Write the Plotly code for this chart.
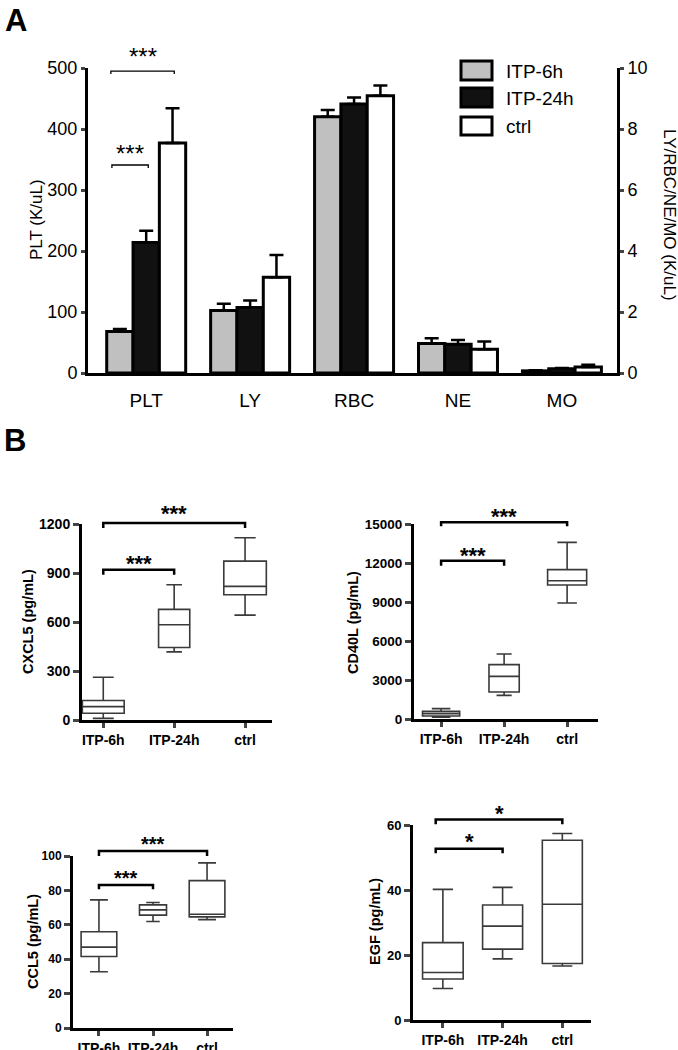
import plotly.graph_objects as go

W, H = 678, 1050
FONT = "Liberation Sans, Arial, sans-serif"

# ---------------- data : panel A ----------------
groups = ["ITP-6h", "ITP-24h", "ctrl"]
group_colors = ["#c0c0c0", "#111111", "#ffffff"]
cells = ["PLT", "LY", "RBC", "NE", "MO"]

plt_cells = ["PLT"]
plt_mean = {"ITP-6h": [68], "ITP-24h": [214], "ctrl": [377]}
plt_sem = {"ITP-6h": [4], "ITP-24h": [19], "ctrl": [57]}

other_cells = ["LY", "RBC", "NE", "MO"]
other_mean = {
    "ITP-6h": [2.05, 8.40, 0.97, 0.07],
    "ITP-24h": [2.15, 8.82, 0.94, 0.14],
    "ctrl": [3.14, 9.09, 0.78, 0.20],
}
other_sem = {
    "ITP-6h": [0.22, 0.22, 0.17, 0.02],
    "ITP-24h": [0.23, 0.21, 0.14, 0.02],
    "ctrl": [0.73, 0.34, 0.25, 0.07],
}

# ---------------- data : panel B ----------------
box_groups = ["ITP-6h", "ITP-24h", "ctrl"]

cxcl5_low = [10, 417, 642]
cxcl5_q1 = [41, 444, 767]
cxcl5_med = [82, 583, 818]
cxcl5_q3 = [119, 677, 973]
cxcl5_high = [262, 828, 1116]

cd40l_low = [130, 1820, 8920]
cd40l_q1 = [230, 2080, 10310]
cd40l_med = [410, 3280, 10640]
cd40l_q3 = [590, 4180, 11490]
cd40l_high = [795, 5000, 13590]

ccl5_low = [32.7, 61.9, 63.0]
ccl5_q1 = [41.6, 65.6, 64.6]
ccl5_med = [47.0, 68.7, 66.1]
ccl5_q3 = [56.0, 71.6, 85.7]
ccl5_high = [74.5, 73.0, 96.0]

egf_low = [9.7, 18.8, 16.6]
egf_q1 = [12.6, 21.8, 17.4]
egf_med = [14.6, 28.9, 35.6]
egf_q3 = [23.8, 35.4, 55.3]
egf_high = [40.2, 40.8, 57.4]

# ---------------- helpers (window pixels -> paper) ----------------
def px(x):
    return x / W


def py(y):
    return 1 - y / H


fig = go.Figure()

# ---------------- panel A bars ----------------
for g, col in zip(groups, group_colors):
    fig.add_trace(go.Bar(
        x=plt_cells, y=plt_mean[g], name=g, offsetgroup=g,
        marker=dict(color=col, line=dict(color="#000", width=3)),
        error_y=dict(type="data", symmetric=False, array=plt_sem[g],
                     arrayminus=[0] * len(plt_sem[g]),
                     color="#000", thickness=2.5, width=7),
        xaxis="x", yaxis="y", showlegend=False))
    fig.add_trace(go.Bar(
        x=other_cells, y=other_mean[g], name=g, offsetgroup=g,
        marker=dict(color=col, line=dict(color="#000", width=3)),
        error_y=dict(type="data", symmetric=False, array=other_sem[g],
                     arrayminus=[0] * len(other_sem[g]),
                     color="#000", thickness=2.5, width=7),
        xaxis="x", yaxis="y2", showlegend=False))

# ---------------- panel B boxes ----------------
box_panels = [
    dict(name="CXCL5 (pg/mL)", xa="x2", ya="y3",
         stats=(cxcl5_low, cxcl5_q1, cxcl5_med, cxcl5_q3, cxcl5_high),
         widths=[0.59, 0.44, 0.6]),
    dict(name="CD40L (pg/mL)", xa="x3", ya="y4",
         stats=(cd40l_low, cd40l_q1, cd40l_med, cd40l_q3, cd40l_high),
         widths=[0.59, 0.48, 0.62]),
    dict(name="CCL5 (pg/mL)", xa="x4", ya="y5",
         stats=(ccl5_low, ccl5_q1, ccl5_med, ccl5_q3, ccl5_high),
         widths=[0.66, 0.5, 0.66]),
    dict(name="EGF (pg/mL)", xa="x5", ya="y6",
         stats=(egf_low, egf_q1, egf_med, egf_q3, egf_high),
         widths=[0.68, 0.67, 0.67]),
]
for p in box_panels:
    lo, q1, md, q3, hi = p["stats"]
    for i, g in enumerate(box_groups):
        fig.add_trace(go.Box(
            x=[g], lowerfence=[lo[i]], q1=[q1[i]], median=[md[i]],
            q3=[q3[i]], upperfence=[hi[i]], width=p["widths"][i],
            whiskerwidth=0.5, fillcolor="white", boxpoints=False,
            line=dict(color="#3a3a3a", width=1.6),
            xaxis=p["xa"], yaxis=p["ya"], showlegend=False))

# ---------------- axes ----------------
axis_common = dict(showgrid=False, zeroline=False, showline=True,
                   linecolor="#000", mirror=False, automargin=False)

layout = dict(
    width=W, height=H, margin=dict(l=0, r=0, t=0, b=0, autoexpand=False),
    paper_bgcolor="white", plot_bgcolor="rgba(0,0,0,0)",
    barmode="group", bargap=0.24, bargroupgap=0, boxmode="overlay",
    font=dict(family=FONT, color="#000"),
    showlegend=False,
)

# panel A
layout["xaxis"] = dict(axis_common, domain=[px(88), px(617)], anchor="y",
                       type="category", categoryorder="array",
                       categoryarray=cells, range=[-0.56, 4.53],
                       linewidth=3, ticks="", ticklabelstandoff=8,
                       tickfont=dict(size=19, family=FONT))
layout["yaxis"] = dict(axis_common, domain=[py(373), py(68)], anchor="x",
                       range=[0, 500], dtick=100, ticks="outside",
                       ticklen=4, tickwidth=3, linewidth=3,
                       tickfont=dict(size=18, family=FONT))
layout["yaxis2"] = dict(axis_common, overlaying="y", side="right",
                        anchor="x", range=[0, 10], dtick=2,
                        ticks="outside", ticklen=4, tickwidth=3,
                        linewidth=3, tickfont=dict(size=18, family=FONT))

b_axes = [
    ("xaxis2", "yaxis3", "y3", (82, 272), (720, 524), [-0.3, 2.38], [0, 1200], 300, 14),
    ("xaxis3", "yaxis4", "y4", (414, 598), (719, 524), [-0.43, 2.49], [0, 15000], 3000, 13.5),
    ("xaxis4", "yaxis5", "y5", (73, 233), (1028, 856), [-0.48, 2.48], [0, 100], 20, 12),
    ("xaxis5", "yaxis6", "y6", (413, 591), (1020, 825), [-0.5, 2.48], [0, 60], 20, 13),
]
for xk, yk, yid, (x0, x1), (yb, yt), xr, yr, dt, fs in b_axes:
    xid = "x" + xk[5:]
    layout[xk] = dict(axis_common, domain=[px(x0), px(x1)], anchor=yid,
                      type="category", categoryorder="array",
                      categoryarray=box_groups, range=xr, linewidth=3,
                      ticks="outside", ticklen=5, tickwidth=2.5,
                      tickfont=dict(size=14, family=FONT, weight="bold"))
    layout[yk] = dict(axis_common, domain=[py(yb), py(yt)], anchor=xid,
                      range=yr, dtick=dt, linewidth=3, ticks="outside",
                      ticklen=6, tickwidth=2.5, tickformat="d",
                      tickfont=dict(size=fs, family=FONT, weight="bold"))

fig.update_layout(**layout)

# ---------------- annotations / shapes ----------------
ann = []
shapes = []

# panel letters
ann.append(dict(text="<b>A</b>", x=px(3), y=py(20), xref="paper", yref="paper",
                xanchor="left", yanchor="middle", showarrow=False,
                font=dict(size=31, family=FONT)))
ann.append(dict(text="<b>B</b>", x=px(2), y=py(441), xref="paper", yref="paper",
                xanchor="left", yanchor="middle", showarrow=False,
                font=dict(size=31, family=FONT)))

# panel A axis titles
ann.append(dict(text="PLT (K/uL)", x=px(36), y=py(220), xref="paper",
                yref="paper", textangle=-90, showarrow=False,
                xanchor="center", yanchor="middle",
                font=dict(size=17, family=FONT)))
ann.append(dict(text="LY/RBC/NE/MO (K/uL)", x=px(669), y=py(215),
                xref="paper", yref="paper", textangle=90, showarrow=False,
                xanchor="center", yanchor="middle",
                font=dict(size=17, family=FONT)))

# legend (drawn)
leg_rows = [(61, 80), (88, 107), (117, 135)]
for (y0, y1), g, col in zip(leg_rows, groups, group_colors):
    shapes.append(dict(type="rect", xref="paper", yref="paper",
                       x0=px(461), x1=px(492), y0=py(y1), y1=py(y0),
                       fillcolor=col, line=dict(color="#000", width=3)))
    ann.append(dict(text=g, x=px(504), y=py((y0 + y1) / 2 + 1), xref="paper",
                    yref="paper", xanchor="left", yanchor="middle",
                    showarrow=False, font=dict(size=19, family=FONT)))


def bracket(xref, yref, ymax, xa, xb, ytop, ybot, label, lw, fsize, star_y, bold):
    shapes.append(dict(type="path", xref=xref, yref=yref + " domain",
                       path=f"M {xa},{ybot / ymax} L {xa},{ytop / ymax} "
                            f"L {xb},{ytop / ymax} L {xb},{ybot / ymax}",
                       line=dict(color="#000", width=lw)))
    txt = f"<b>{label}</b>" if bold else label
    ann.append(dict(text=txt, x=(xa + xb) / 2, y=star_y / ymax, xref=xref,
                    yref=yref + " domain", xanchor="center", yanchor="middle",
                    showarrow=False, yshift=-fsize * 0.22,
                    font=dict(size=fsize, family=FONT)))


# panel A significance (left-axis units)
bracket("x", "y", 500, -0.34, 0.27, 495, 490, "***", 1.3, 24, 527, False)
bracket("x", "y", 500, -0.33, 0.02, 341, 336, "***", 1.3, 24, 369, False)

# panel B significance
bracket("x2", "y3", 1200, 0, 2, 1206, 1175, "***", 2.5, 22, 1292, True)
bracket("x2", "y3", 1200, 0, 1, 920, 889, "***", 2.5, 22, 987, True)
bracket("x3", "y4", 15000, 0, 2, 15130, 14820, "***", 2.5, 22, 15970, True)
bracket("x3", "y4", 15000, 0, 1, 12180, 11790, "***", 2.5, 22, 12970, True)
bracket("x4", "y5", 100, 0, 2, 102.9, 100.0, "***", 2.5, 20, 109.3, True)
bracket("x4", "y5", 100, 0, 1, 83.2, 80.7, "***", 2.5, 20, 90.0, True)
bracket("x5", "y6", 60, -0.12, 2, 61.7, 60.2, "*", 2.5, 22, 65.1, True)
bracket("x5", "y6", 60, -0.12, 1, 52.7, 51.3, "*", 2.5, 22, 56.4, True)

# panel B axis titles
for p, (cx, cy) in zip(box_panels, [(28, 622), (353, 623), (33, 942), (375, 922)]):
    ann.append(dict(text=f"<b>{p['name']}</b>", x=px(cx), y=py(cy),
                    xref="paper", yref="paper", textangle=-90,
                    xanchor="center", yanchor="middle",
                    showarrow=False, font=dict(size=14.5, family=FONT)))

fig.update_layout(annotations=ann, shapes=shapes)
# remove the default 8px page margin so the figure fills the window exactly
fig.write_html("out.html",
               config={"displayModeBar": False},
               post_script="document.body.style.margin='0';"
                           "document.body.style.overflow='hidden';")
